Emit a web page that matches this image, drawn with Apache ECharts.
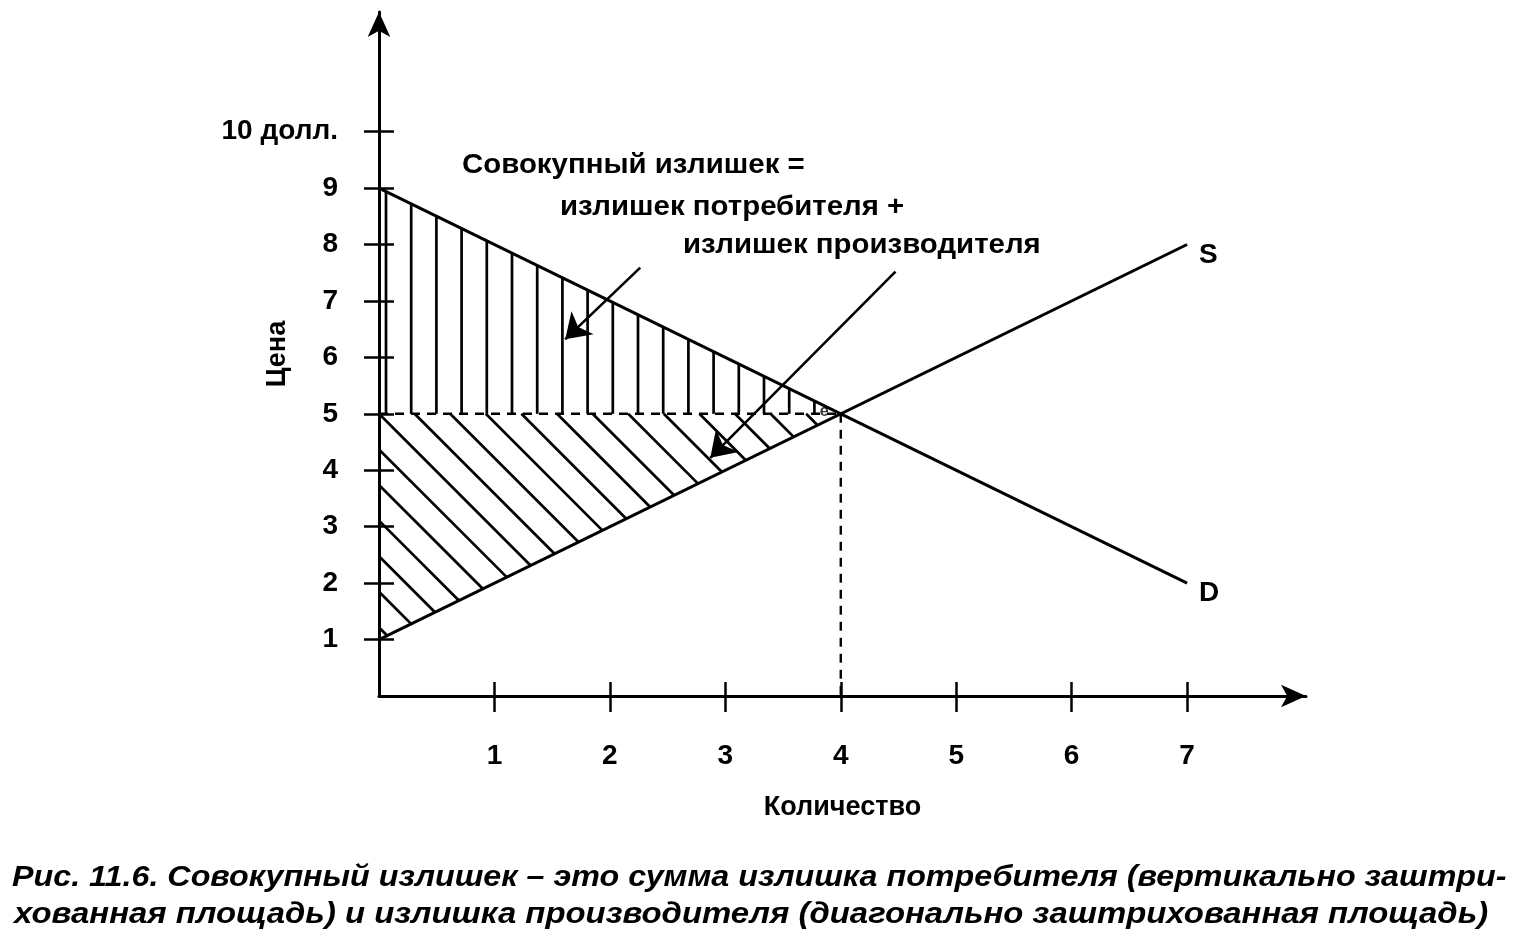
<!DOCTYPE html>
<html>
<head>
<meta charset="utf-8">
<script src="https://cdn.jsdelivr.net/npm/echarts@6/dist/echarts.min.js"></script>
<style>
  html, body { margin: 0; padding: 0; background: #fff; }
  #chart { width: 1521px; height: 952px; }
</style>
</head>
<body>
<div id="chart"></div>
<script>
// ---- data ----
const xTicks = [1, 2, 3, 4, 5, 6, 7];
const yTicks = [1, 2, 3, 4, 5, 6, 7, 8, 9, 10];
const yTopLabel = '10 долл.';
const demand = [[0, 9], [7, 2]];
const supply = [[0, 1], [7, 8]];
const equilibrium = [4, 5];
const curveNames = ['S', 'D'];
const equilibriumLabel = 'e';
const annotationLines = ['Совокупный излишек =', 'излишек потребителя +', 'излишек производителя'];
const annotationArrows = [
  [[2.263, 7.59], [1.613, 6.32]],
  [[4.474, 7.52], [2.870, 4.22]]
];
const xName = 'Количество';
const yName = 'Цена';
const captionLines = [
  'Рис. 11.6. Совокупный излишек – это сумма излишка потребителя (вертикально заштри-',
  'хованная площадь) и излишка производителя (диагонально заштрихованная площадь)'
];

// ---- chart ----
const FONT = '"Liberation Sans", Arial, sans-serif';
const chart = echarts.init(document.getElementById('chart'), null, { renderer: 'canvas' });

function renderHatch(params, api) {
  const A = api.coord([0, equilibrium[1]]);
  const E = api.coord(equilibrium);
  const Dtop = api.coord(demand[0]);
  const Sbot = api.coord(supply[0]);
  const children = [];
  const st = { stroke: '#000', lineWidth: 2.7 };
  // vertical hatching (consumer surplus)
  for (let x = A[0] + 7; x < E[0] - 6; x += 25.2) {
    const t = (x - Dtop[0]) / (E[0] - Dtop[0]);
    const yTop = Dtop[1] + t * (E[1] - Dtop[1]);
    children.push({ type: 'line', shape: { x1: x, y1: yTop, x2: x, y2: A[1] }, style: st });
  }
  // diagonal hatching (producer surplus)
  const c0 = A[0] - A[1];
  const edges = [[A, E], [E, Sbot], [Sbot, A]];
  for (let k = -10; k <= 16; k++) {
    const c = c0 + k * 35.6;
    const pts = [];
    edges.forEach(function (e) {
      const P = e[0], Q = e[1];
      const fP = P[0] - P[1] - c, fQ = Q[0] - Q[1] - c;
      if (fP * fQ <= 0 && fP !== fQ) {
        const t = fP / (fP - fQ);
        const p = [P[0] + t * (Q[0] - P[0]), P[1] + t * (Q[1] - P[1])];
        if (!pts.some(q => Math.hypot(q[0] - p[0], q[1] - p[1]) < 0.5)) pts.push(p);
      }
    });
    if (pts.length >= 2) {
      children.push({ type: 'line', shape: { x1: pts[0][0], y1: pts[0][1], x2: pts[1][0], y2: pts[1][1] }, style: st });
    }
  }
  return { type: 'group', children: children };
}

const axisBase = {
  type: 'value',
  min: 0,
  splitLine: { show: false },
};

const option = {
  animation: false,
  backgroundColor: '#fff',
  grid: { left: 379, right: 215, top: 12, bottom: 256, containLabel: false },
  xAxis: [
    Object.assign({}, axisBase, {
      max: 8.03,
      position: 'bottom',
      name: xName,
      nameLocation: 'middle',
      nameGap: 98,
      nameMoveOverlap: false,
      nameTextStyle: { fontFamily: FONT, fontSize: 27, fontWeight: 'bold', color: '#000' },
      axisLine: { show: true, lineStyle: { color: '#000', width: 3 }, symbol: ['none', 'arrow'], symbolSize: [17, 25] },
      axisTick: { show: true, inside: false, length: 16, customValues: xTicks, lineStyle: { color: '#000', width: 2.5 } },
      axisLabel: { show: true, customValues: xTicks, margin: 46, fontFamily: FONT, fontSize: 28, fontWeight: 'bold', color: '#000' }
    }),
    Object.assign({}, axisBase, {
      max: 8.03,
      position: 'bottom',
      axisLine: { show: false },
      axisTick: { show: true, inside: true, length: 14, customValues: xTicks, lineStyle: { color: '#000', width: 2.5 } },
      axisLabel: { show: false }
    })
  ],
  yAxis: [
    Object.assign({}, axisBase, {
      max: 12.12,
      position: 'left',
      name: yName,
      nameLocation: 'middle',
      nameGap: 88,
      nameRotate: 90,
      nameMoveOverlap: false,
      nameTextStyle: { fontFamily: FONT, fontSize: 27, fontWeight: 'bold', color: '#000' },
      axisLine: { show: true, lineStyle: { color: '#000', width: 3 }, symbol: ['none', 'arrow'], symbolSize: [17, 25] },
      axisTick: { show: true, inside: false, length: 15, customValues: yTicks, lineStyle: { color: '#000', width: 2.5 } },
      axisLabel: {
        show: true, customValues: yTicks, margin: 41, fontFamily: FONT, fontSize: 28, fontWeight: 'bold', color: '#000',
        formatter: function (v) { return v === yTicks[yTicks.length - 1] ? yTopLabel : String(v); }
      }
    }),
    Object.assign({}, axisBase, {
      max: 12.12,
      position: 'left',
      axisLine: { show: false },
      axisTick: { show: true, inside: true, length: 15, customValues: yTicks, lineStyle: { color: '#000', width: 2.5 } },
      axisLabel: { show: false }
    })
  ],
  series: [
    {
      type: 'custom',
      name: 'hatch',
      renderItem: renderHatch,
      data: [[0]],
      silent: true,
      z: 2
    },
    {
      type: 'line', name: 'dashH',
      data: [[0, equilibrium[1]], equilibrium],
      symbol: 'none',
      lineStyle: { color: '#000', width: 2.4, type: [9, 7] },
      z: 3
    },
    {
      type: 'line', name: 'dashV',
      data: [equilibrium, [equilibrium[0], 0]],
      symbol: 'none',
      lineStyle: { color: '#000', width: 2.4, type: [9, 7] },
      z: 3
    },
    {
      type: 'line', name: curveNames[0],
      data: supply,
      symbol: 'none',
      lineStyle: { color: '#000', width: 3 },
      endLabel: { show: true, formatter: curveNames[0], distance: 12, offset: [0, 11], fontFamily: FONT, fontSize: 28, fontWeight: 'bold', color: '#000' },
      z: 4
    },
    {
      type: 'line', name: curveNames[1],
      data: demand,
      symbol: 'none',
      lineStyle: { color: '#000', width: 3 },
      endLabel: { show: true, formatter: curveNames[1], distance: 12, offset: [0, 10], fontFamily: FONT, fontSize: 28, fontWeight: 'bold', color: '#000' },
      z: 4
    },
    {
      type: 'scatter', name: 'eq',
      data: [equilibrium],
      symbolSize: 0,
      label: { show: true, formatter: equilibriumLabel, position: 'left', distance: 12, offset: [0, -2], fontFamily: FONT, fontSize: 16, fontWeight: 'bold', color: '#000' },
      z: 5
    },
    {
      type: 'lines', name: 'arrows',
      coordinateSystem: 'cartesian2d',
      data: annotationArrows.map(a => ({ coords: a })),
      symbol: ['none', 'arrow'],
      symbolSize: [15, 24],
      lineStyle: { color: '#000', width: 2.6, opacity: 1 },
      z: 6
    }
  ],
  graphic: [
    { type: 'text', x: 462, y: 165, scaleX: 1.05, style: { text: annotationLines[0], font: 'bold 28px ' + FONT, fill: '#000', verticalAlign: 'middle' } },
    { type: 'text', x: 560, y: 207, scaleX: 1.05, style: { text: annotationLines[1], font: 'bold 28px ' + FONT, fill: '#000', verticalAlign: 'middle' } },
    { type: 'text', x: 683, y: 245, scaleX: 1.05, style: { text: annotationLines[2], font: 'bold 28px ' + FONT, fill: '#000', verticalAlign: 'middle' } },
    { type: 'text', x: 12, y: 878, scaleX: 1.112, style: { text: captionLines[0], font: 'italic bold 29px ' + FONT, fill: '#000', verticalAlign: 'middle' } },
    { type: 'text', x: 14, y: 915, scaleX: 1.134, style: { text: captionLines[1], font: 'italic bold 29px ' + FONT, fill: '#000', verticalAlign: 'middle' } }
  ]
};
chart.setOption(option);
</script>
</body>
</html>
